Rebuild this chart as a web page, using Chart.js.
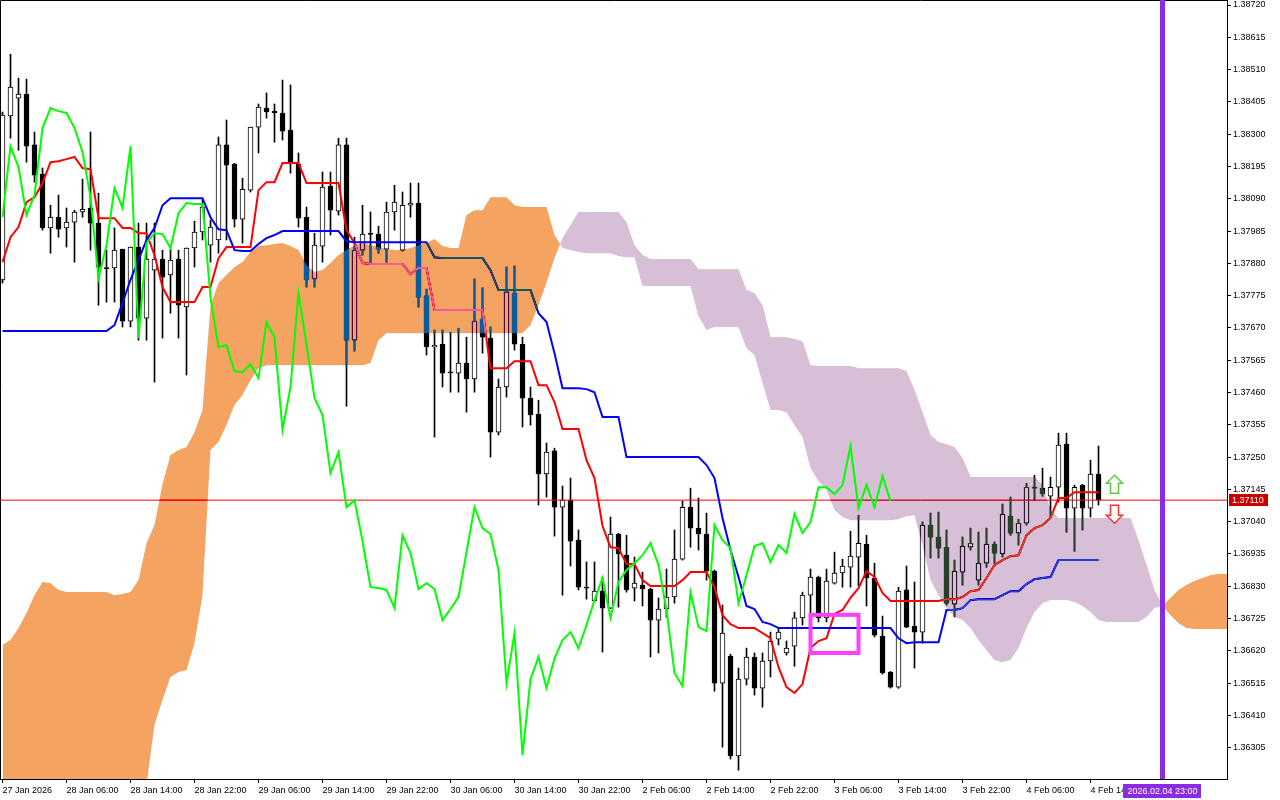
<!DOCTYPE html>
<html><head><meta charset="utf-8">
<script src="https://cdn.jsdelivr.net/npm/chart.js@4.4.1/dist/chart.umd.min.js"></script>
<style>html,body{margin:0;padding:0;background:#fff;overflow:hidden}canvas{display:block}</style>
</head><body><canvas id="c" width="1280" height="800"></canvas>
<script>
// ---- DATA (USDCAD H1) ----
const OPEN = [1.37826,1.38359,1.38417,1.38430,1.38265,1.38170,1.37995,1.38030,1.37995,1.38014,
1.38047,1.38060,1.38011,1.37866,1.37865,1.37926,1.37692,1.37933,1.37702,1.37858,
1.37894,1.37842,1.37894,1.37738,1.37930,1.37982,1.37939,1.37956,1.38265,1.38203,
1.38024,1.38118,1.38323,1.38385,1.38375,1.38369,1.38313,1.38203,1.38030,1.37829,
1.37936,1.38131,1.38050,1.38265,1.37630,1.37923,1.37977,1.37975,1.37926,1.38047,
1.37923,1.38069,1.38076,1.37774,1.37608,1.37617,1.37527,1.37523,1.37556,1.37504,
1.37699,1.37637,1.37331,1.37478,1.37783,1.37617,1.37442,1.37390,1.37195,1.37270,
1.37087,1.37110,1.36980,1.36827,1.36782,1.36814,1.36759,1.37000,1.36931,1.36824,
1.36834,1.36821,1.36720,1.36756,1.36795,1.36918,1.37087,1.37019,1.37000,1.36879,
1.36515,1.36603,1.36278,1.36528,1.36600,1.36499,1.36587,1.36658,1.36613,1.36635,
1.36727,1.36801,1.36860,1.36727,1.36840,1.36873,1.36892,1.36925,1.36967,1.36857,
1.36668,1.36551,1.36502,1.36818,1.36700,1.36681,1.37029,1.36990,1.36957,1.36772,
1.36876,1.36957,1.36850,1.36905,1.36967,1.36935,1.37058,1.37003,1.37035,1.37152,
1.37149,1.37123,1.37152,1.37292,1.37084,1.37159,1.37084,1.37195];
const HIGH = [1.38372,1.38560,1.38482,1.38479,1.38307,1.38190,1.38069,1.38102,1.38060,1.38053,
1.38154,1.38307,1.38108,1.37923,1.37995,1.37926,1.37933,1.38011,1.38011,1.38011,
1.37923,1.37926,1.37923,1.37930,1.38017,1.38086,1.38021,1.38291,1.38346,1.38205,
1.38157,1.38323,1.38398,1.38434,1.38398,1.38476,1.38460,1.38239,1.38063,1.37978,
1.38177,1.38177,1.38287,1.38287,1.37965,1.38069,1.38047,1.38001,1.38079,1.38134,
1.38112,1.38141,1.38141,1.37796,1.37663,1.37663,1.37656,1.37669,1.37640,1.37829,
1.37800,1.37673,1.37504,1.37868,1.37871,1.37640,1.37478,1.37435,1.37296,1.37279,
1.37156,1.37182,1.37013,1.36909,1.36909,1.36860,1.37055,1.37002,1.36996,1.36925,
1.36876,1.36823,1.36792,1.36886,1.37013,1.37107,1.37149,1.37117,1.37068,1.36883,
1.36769,1.36609,1.36564,1.36629,1.36613,1.36613,1.36681,1.36697,1.36652,1.36746,
1.36811,1.36886,1.36863,1.36886,1.36941,1.36918,1.37009,1.37061,1.36996,1.36905,
1.36733,1.36553,1.36827,1.36896,1.36844,1.37039,1.37068,1.37071,1.37013,1.36915,
1.36990,1.37019,1.37006,1.37019,1.36974,1.37097,1.37120,1.37048,1.37165,1.37191,
1.37214,1.37185,1.37328,1.37328,1.37159,1.37161,1.37240,1.37286];
const LOW = [1.37816,1.38287,1.38248,1.38209,1.38144,1.37988,1.37913,1.37965,1.37933,1.37884,
1.38030,1.37923,1.37744,1.37754,1.37754,1.37673,1.37673,1.37630,1.37630,1.37494,
1.37637,1.37718,1.37637,1.37517,1.37868,1.37956,1.37884,1.37913,1.37956,1.37998,
1.37946,1.38112,1.38239,1.38352,1.38274,1.38281,1.38173,1.37998,1.37803,1.37803,
1.37884,1.37972,1.38037,1.37416,1.37595,1.37907,1.37881,1.37913,1.37884,1.37988,
1.37920,1.38030,1.37738,1.37582,1.37315,1.37478,1.37461,1.37461,1.37396,1.37461,
1.37588,1.37250,1.37322,1.37445,1.37598,1.37348,1.37354,1.37094,1.37120,1.36993,
1.36801,1.36896,1.36818,1.36788,1.36780,1.36616,1.36757,1.36762,1.36811,1.36782,
1.36766,1.36600,1.36613,1.36730,1.36775,1.36915,1.36957,1.36948,1.36850,1.36489,
1.36307,1.36268,1.36232,1.36509,1.36476,1.36437,1.36535,1.36639,1.36606,1.36570,
1.36704,1.36730,1.36714,1.36714,1.36837,1.36827,1.36827,1.36831,1.36766,1.36665,
1.36544,1.36499,1.36498,1.36695,1.36564,1.36645,1.36922,1.36922,1.36769,1.36730,
1.36834,1.36948,1.36834,1.36892,1.36905,1.36925,1.36996,1.36964,1.37029,1.37110,
1.37123,1.37055,1.37104,1.37006,1.36944,1.37013,1.37055,1.37094];
const CLOSE = [1.38362,1.38453,1.38430,1.38261,1.38167,1.37995,1.38030,1.37991,1.38014,1.38047,
1.38056,1.38011,1.37868,1.37863,1.37923,1.37692,1.37933,1.37702,1.37894,1.37894,
1.37835,1.37891,1.37744,1.37930,1.37982,1.38063,1.37998,1.38265,1.38199,1.38024,
1.38121,1.38323,1.38388,1.38372,1.38369,1.38310,1.38206,1.38027,1.37826,1.37939,
1.38128,1.38053,1.38265,1.37630,1.37923,1.37975,1.37974,1.37926,1.38047,1.38079,
1.38069,1.38076,1.37770,1.37608,1.37614,1.37523,1.37524,1.37556,1.37504,1.37692,
1.37640,1.37331,1.37478,1.37787,1.37617,1.37442,1.37387,1.37195,1.37266,1.37087,
1.37110,1.36977,1.36827,1.36824,1.36814,1.36759,1.37000,1.36935,1.36818,1.36840,
1.36821,1.36720,1.36756,1.36795,1.36918,1.37087,1.37019,1.37000,1.36879,1.36515,
1.36678,1.36278,1.36528,1.36600,1.36499,1.36587,1.36652,1.36681,1.36629,1.36727,
1.36801,1.36860,1.36727,1.36847,1.36873,1.36896,1.36928,1.36970,1.36857,1.36671,
1.36548,1.36502,1.36814,1.36697,1.36681,1.37029,1.36990,1.36954,1.36775,1.36879,
1.36961,1.36970,1.36905,1.36967,1.36938,1.37065,1.37003,1.37035,1.37152,1.37149,
1.37130,1.37152,1.37289,1.37084,1.37152,1.37084,1.37195,1.37110];
const TENKAN = [1.37884,1.37965,1.37998,1.38079,1.38095,1.38141,1.38209,1.38212,1.38219,1.38226,
1.38190,1.38186,1.38027,1.38027,1.38027,1.37995,1.37995,1.37978,1.37978,1.37907,
1.37803,1.37754,1.37754,1.37754,1.37754,1.37803,1.37803,1.37897,1.37933,1.37933,
1.37933,1.37933,1.38118,1.38144,1.38144,1.38206,1.38206,1.38206,1.38141,1.38141,
1.38141,1.38141,1.38141,1.37988,1.37946,1.37881,1.37878,1.37878,1.37878,1.37878,
1.37878,1.37845,1.37865,1.37865,1.37728,1.37728,1.37728,1.37728,1.37728,1.37728,
1.37728,1.37539,1.37539,1.37539,1.37562,1.37562,1.37562,1.37484,1.37484,1.37429,
1.37341,1.37341,1.37341,1.37240,1.37182,1.37026,1.36957,1.36954,1.36902,1.36902,
1.36850,1.36831,1.36831,1.36831,1.36831,1.36850,1.36876,1.36876,1.36876,1.36827,
1.36736,1.36707,1.36694,1.36694,1.36694,1.36678,1.36661,1.36567,1.36502,1.36483,
1.36512,1.36629,1.36652,1.36661,1.36740,1.36753,1.36792,1.36824,1.36879,1.36860,
1.36808,1.36782,1.36782,1.36782,1.36782,1.36782,1.36782,1.36782,1.36788,1.36788,
1.36795,1.36814,1.36818,1.36857,1.36899,1.36915,1.36928,1.36931,1.36996,1.37019,
1.37029,1.37052,1.37117,1.37117,1.37136,1.37136,1.37136,1.37136];
const KIJUN = [1.37660,1.37660,1.37660,1.37660,1.37660,1.37660,1.37660,1.37660,1.37660,1.37660,
1.37660,1.37660,1.37660,1.37660,1.37679,1.37751,1.37826,1.37891,1.37956,1.37995,
1.38069,1.38092,1.38092,1.38092,1.38092,1.38092,1.38030,1.37991,1.37988,1.37923,
1.37920,1.37920,1.37943,1.37962,1.37972,1.37985,1.37985,1.37985,1.37985,1.37985,
1.37985,1.37985,1.37985,1.37952,1.37949,1.37949,1.37949,1.37949,1.37949,1.37949,
1.37949,1.37949,1.37949,1.37949,1.37900,1.37897,1.37897,1.37897,1.37897,1.37897,
1.37897,1.37858,1.37793,1.37793,1.37793,1.37793,1.37793,1.37718,1.37689,1.37588,
1.37474,1.37474,1.37474,1.37471,1.37461,1.37380,1.37380,1.37380,1.37250,1.37250,
1.37250,1.37250,1.37250,1.37250,1.37250,1.37250,1.37250,1.37250,1.37224,1.37182,
1.37052,1.36948,1.36860,1.36766,1.36756,1.36714,1.36707,1.36694,1.36694,1.36694,
1.36694,1.36694,1.36694,1.36694,1.36694,1.36694,1.36694,1.36694,1.36694,1.36694,
1.36694,1.36694,1.36661,1.36645,1.36648,1.36648,1.36648,1.36648,1.36753,1.36753,
1.36759,1.36785,1.36788,1.36788,1.36788,1.36801,1.36814,1.36814,1.36837,1.36853,
1.36857,1.36860,1.36915,1.36915,1.36915,1.36915,1.36915,1.36915];
const CHIKOU = [1.38030,1.38261,1.38193,1.38037,1.38102,1.38320,1.38385,1.38375,1.38369,1.38320,
1.38242,1.38095,1.37832,1.37939,1.38125,1.38060,1.38261,1.37637,1.37946,1.37978,
1.37975,1.37930,1.38043,1.38076,1.38073,1.38073,1.37770,1.37608,1.37614,1.37530,
1.37526,1.37552,1.37507,1.37689,1.37640,1.37338,1.37478,1.37783,1.37617,1.37442,
1.37387,1.37198,1.37266,1.37087,1.37110,1.36977,1.36827,1.36824,1.36818,1.36759,
1.36996,1.36938,1.36821,1.36840,1.36821,1.36720,1.36756,1.36795,1.36941,1.37087,
1.37019,1.37000,1.36883,1.36515,1.36678,1.36281,1.36528,1.36600,1.36499,1.36596,
1.36655,1.36681,1.36629,1.36704,1.36785,1.36857,1.36727,1.36844,1.36883,1.36905,
1.36931,1.36970,1.36899,1.36753,1.36548,1.36505,1.36811,1.36697,1.36684,1.37029,
1.36980,1.36954,1.36775,1.36866,1.36961,1.36970,1.36909,1.36964,1.36938,1.37065,
1.37003,1.37039,1.37152,1.37152,1.37130,1.37159,1.37286,1.37084,1.37159,1.37087,
1.37188,1.37107];
const SPAN_A = [1.36639,1.36655,1.36694,1.36743,1.36801,1.36844,1.36840,1.36818,1.36811,1.36811,
1.36811,1.36811,1.36811,1.36811,1.36801,1.36805,1.36811,1.36850,1.36970,1.37029,
1.37162,1.37257,1.37273,1.37283,1.37331,1.37403,1.37744,1.37816,1.37842,1.37868,
1.37884,1.37917,1.37936,1.37939,1.37943,1.37946,1.37936,1.37923,1.37874,1.37852,
1.37858,1.37881,1.37907,1.37923,1.37939,1.37946,1.37939,1.37933,1.37926,1.37923,
1.37923,1.37930,1.37939,1.37946,1.37959,1.37936,1.37930,1.37930,1.38037,1.38053,
1.38053,1.38095,1.38095,1.38095,1.38069,1.38063,1.38063,1.38063,1.38063,1.37972,
1.37930,1.37923,1.37917,1.37913,1.37913,1.37913,1.37913,1.37904,1.37900,1.37900,
1.37806,1.37806,1.37806,1.37806,1.37806,1.37806,1.37806,1.37708,1.37663,1.37673,
1.37673,1.37673,1.37673,1.37604,1.37582,1.37491,1.37403,1.37403,1.37396,1.37354,
1.37315,1.37214,1.37172,1.37143,1.37078,1.37055,1.37045,1.37045,1.37045,1.37045,
1.37045,1.37045,1.37048,1.37058,1.37061,1.36964,1.36850,1.36801,1.36759,1.36730,
1.36720,1.36694,1.36655,1.36622,1.36590,1.36583,1.36590,1.36629,1.36694,1.36746,
1.36775,1.36785,1.36785,1.36785,1.36779,1.36766,1.36746,1.36720,1.36714,1.36714,
1.36714,1.36714,1.36714,1.36730,1.36759,1.36766,1.36792,1.36818,1.36834,1.36847,
1.36857,1.36866,1.36870,1.36870,1.36870];
const SPAN_B = [1.36167,1.36167,1.36167,1.36167,1.36167,1.36167,1.36167,1.36167,1.36167,1.36167,
1.36167,1.36167,1.36167,1.36167,1.36167,1.36167,1.36167,1.36167,1.36183,1.36379,
1.36460,1.36535,1.36551,1.36557,1.36645,1.36801,1.37273,1.37299,1.37354,1.37419,
1.37452,1.37500,1.37539,1.37549,1.37549,1.37549,1.37549,1.37549,1.37549,1.37549,
1.37549,1.37549,1.37549,1.37549,1.37549,1.37549,1.37556,1.37630,1.37653,1.37653,
1.37653,1.37653,1.37653,1.37653,1.37653,1.37653,1.37653,1.37653,1.37653,1.37653,
1.37653,1.37653,1.37653,1.37653,1.37653,1.37653,1.37679,1.37744,1.37816,1.37897,
1.37962,1.38004,1.38047,1.38047,1.38047,1.38047,1.38047,1.38047,1.38014,1.37939,
1.37907,1.37894,1.37894,1.37894,1.37894,1.37894,1.37894,1.37861,1.37861,1.37861,
1.37861,1.37861,1.37861,1.37793,1.37783,1.37744,1.37640,1.37640,1.37640,1.37634,
1.37627,1.37549,1.37546,1.37546,1.37546,1.37546,1.37546,1.37539,1.37539,1.37539,
1.37539,1.37539,1.37539,1.37530,1.37468,1.37396,1.37322,1.37299,1.37292,1.37283,
1.37247,1.37185,1.37185,1.37185,1.37185,1.37185,1.37185,1.37185,1.37185,1.37185,
1.37159,1.37078,1.37052,1.37052,1.37052,1.37052,1.37052,1.37052,1.37052,1.37052,
1.37052,1.37052,1.36980,1.36899,1.36818,1.36766,1.36736,1.36710,1.36694,1.36691,
1.36691,1.36691,1.36691,1.36691,1.36691];
const Y_TICKS = [1.38720,1.38615,1.38510,1.38405,1.38300,1.38195,1.38090,1.37985,1.37880,1.37775,
1.37670,1.37565,1.37460,1.37355,1.37250,1.37145,1.37040,1.36935,1.36830,1.36725,1.36620,1.36515,1.36410,1.36305];
const X_LABELS = ['27 Jan 2026','28 Jan 06:00','28 Jan 14:00','28 Jan 22:00','29 Jan 06:00','29 Jan 14:00',
'29 Jan 22:00','30 Jan 06:00','30 Jan 14:00','30 Jan 22:00','2 Feb 06:00','2 Feb 14:00','2 Feb 22:00',
'3 Feb 06:00','3 Feb 14:00','3 Feb 22:00','4 Feb 06:00','4 Feb 14:00'];
const BARS_PER_LABEL = 8;
const BID = 1.37110;
const CURSOR_BAR = 145;
const CURSOR_LABEL = '2026.02.04 23:00';
const RECT = {from: 101, to: 107, top: 1.36737, bottom: 1.36613};
const ARROW_BAR = 139;
const ARROW_UP = 1.37191;
const ARROW_DOWN = 1.37035;

// ---- CHART ----
const FONT = '"Liberation Sans", Arial, sans-serif';
Chart.defaults.font.family = FONT;
Chart.defaults.font.size = 9;
Chart.defaults.color = '#000';

const idx = a => a.map((v, i) => ({x: i, y: v}));

const overlay = {
  id: 'overlay',
  beforeDraw(chart) {
    const c = chart.ctx;
    c.save();
    c.globalCompositeOperation = 'source-over';
    c.fillStyle = '#ffffff';
    c.fillRect(0, 0, chart.width, chart.height);
    c.restore();
  },
  afterDatasetDraw(chart, args) {
    // MT4 paints the Ichimoku cloud in XOR mode over candles and Tenkan/Kijun
    if (args.index === 4) chart.ctx.globalCompositeOperation = 'difference';
    else if (args.index === 6) chart.ctx.globalCompositeOperation = 'source-over';
  },
  afterDatasetsDraw(chart) { chart.ctx.globalCompositeOperation = 'source-over'; },
  afterDraw(chart) {
    const {ctx, chartArea: a, scales: {x, y}} = chart;
    ctx.save();
    ctx.globalCompositeOperation = 'source-over';
    // frame
    ctx.strokeStyle = '#000'; ctx.lineWidth = 1;
    ctx.beginPath();
    ctx.moveTo(a.left + 0.5, a.bottom); ctx.lineTo(a.left + 0.5, a.top + 0.5); ctx.lineTo(a.right, a.top + 0.5);
    ctx.stroke();
    // rectangle object
    const rx1 = x.getPixelForValue(RECT.from), rx2 = x.getPixelForValue(RECT.to);
    const ry1 = y.getPixelForValue(RECT.top), ry2 = y.getPixelForValue(RECT.bottom);
    ctx.strokeStyle = '#ff40ff'; ctx.lineWidth = 4;
    ctx.strokeRect(rx1, ry1, rx2 - rx1, ry2 - ry1);
    // arrows
    const ax = x.getPixelForValue(ARROW_BAR);
    const up = y.getPixelForValue(ARROW_UP), dn = y.getPixelForValue(ARROW_DOWN);
    ctx.lineWidth = 1.5; ctx.lineJoin = 'miter';
    ctx.beginPath();
    ctx.moveTo(ax, up); ctx.lineTo(ax + 8, up + 8); ctx.lineTo(ax + 4, up + 8); ctx.lineTo(ax + 4, up + 18);
    ctx.lineTo(ax - 4, up + 18); ctx.lineTo(ax - 4, up + 8); ctx.lineTo(ax - 8, up + 8); ctx.closePath();
    ctx.fillStyle = '#fff'; ctx.fill(); ctx.strokeStyle = '#5cd03c'; ctx.stroke();
    ctx.beginPath();
    ctx.moveTo(ax, dn); ctx.lineTo(ax + 8, dn - 8); ctx.lineTo(ax + 4, dn - 8); ctx.lineTo(ax + 4, dn - 18);
    ctx.lineTo(ax - 4, dn - 18); ctx.lineTo(ax - 4, dn - 8); ctx.lineTo(ax - 8, dn - 8); ctx.closePath();
    ctx.fillStyle = '#fff'; ctx.fill(); ctx.strokeStyle = '#ff3030'; ctx.stroke();
    // vertical cursor line
    const cx = x.getPixelForValue(CURSOR_BAR);
    ctx.fillStyle = '#8a2be2';
    ctx.fillRect(Math.round(cx - 2.5), a.top, 5, a.bottom - a.top);
    // time label
    ctx.font = '9px ' + FONT;
    const tw = ctx.measureText(CURSOR_LABEL).width;
    ctx.fillRect(Math.round(cx - tw / 2 - 4), a.bottom + 5, Math.round(tw + 8), 14);
    ctx.fillStyle = '#fff'; ctx.textAlign = 'center'; ctx.textBaseline = 'middle';
    ctx.fillText(CURSOR_LABEL, cx, a.bottom + 12.5);
    // bid label
    const by = y.getPixelForValue(BID);
    const bw = ctx.measureText(BID.toFixed(5)).width;
    ctx.fillStyle = '#c80000';
    ctx.fillRect(a.right + 2, Math.round(by) - 6, Math.round(bw + 7), 12);
    ctx.fillStyle = '#fff'; ctx.textAlign = 'left';
    ctx.fillText(BID.toFixed(5), a.right + 5, Math.round(by) + 0.5);
    ctx.restore();
  }
};

new Chart(document.getElementById('c'), {
  type: 'line',
  data: {
    datasets: [
      { type: 'bar', label: 'wick', data: HIGH.map((h, i) => ({x: i, y: [LOW[i], h]})),
        backgroundColor: '#000', barThickness: 1, grouped: false, order: 10 },
      { type: 'bar', label: 'body', data: OPEN.map((o, i) => ({x: i, y: [o, CLOSE[i]]})),
        backgroundColor: OPEN.map((o, i) => CLOSE[i] >= o ? '#fff' : '#000'),
        borderColor: '#000', borderWidth: 1, borderSkipped: false, barThickness: 5,
        minBarLength: 1, grouped: false, order: 9 },
      { label: 'bid', data: [{x: -1, y: BID}, {x: 200, y: BID}], borderColor: '#ff0000',
        borderWidth: 1, pointRadius: 0, order: 8 },
      { label: 'Tenkan', data: idx(TENKAN), borderColor: '#ff0000', borderWidth: 2, pointRadius: 0, order: 7 },
      { label: 'Kijun', data: idx(KIJUN), borderColor: '#0000ff', borderWidth: 2, pointRadius: 0, order: 6 },
      { label: 'SpanA', data: idx(SPAN_A), borderColor: 'rgba(0,0,0,0)', borderWidth: 0, pointRadius: 0,
        showLine: false, order: 5,
        fill: {target: '+1', above: 'rgb(11,91,159)', below: 'rgb(39,64,39)'} },
      { label: 'SpanB', data: idx(SPAN_B), borderColor: 'rgba(0,0,0,0)', borderWidth: 0, pointRadius: 0,
        showLine: false, order: 4 },
      { label: 'Chikou', data: idx(CHIKOU), borderColor: '#00ff00', borderWidth: 2, pointRadius: 0, order: 3 }
    ]
  },
  options: {
    responsive: false, animation: false, devicePixelRatio: 1, events: [],
    layout: {padding: 0},
    plugins: {legend: {display: false}, tooltip: {enabled: false}},
    elements: {line: {tension: 0}},
    scales: {
      x: {
        type: 'linear', position: 'bottom', min: -0.3125, max: 153.0625, offset: false,
        grid: {display: true, drawOnChartArea: false, drawTicks: true, tickLength: 4, color: '#000', offset: false},
        border: {display: true, color: '#000', width: 1},
        ticks: {autoSkip: false, maxRotation: 0, align: 'start', padding: 2,
          callback: v => X_LABELS[Math.round(v / BARS_PER_LABEL)]},
        afterBuildTicks: s => { s.ticks = X_LABELS.map((_, k) => ({value: k * BARS_PER_LABEL})); },
        afterFit: s => { s.height = 21; s.paddingLeft = 0; s.paddingRight = 0; }
      },
      y: {
        type: 'linear', position: 'right', min: 1.362033, max: 1.387363,
        grid: {display: true, drawOnChartArea: false, drawTicks: true, tickLength: 4, color: '#000'},
        border: {display: true, color: '#000', width: 1},
        ticks: {padding: 2, callback: v => v.toFixed(5)},
        afterBuildTicks: s => { s.ticks = Y_TICKS.map(v => ({value: v})); },
        afterFit: s => { s.width = 53; s.paddingTop = 0; s.paddingBottom = 0; }
      }
    }
  },
  plugins: [overlay]
});
</script>
</body></html>
